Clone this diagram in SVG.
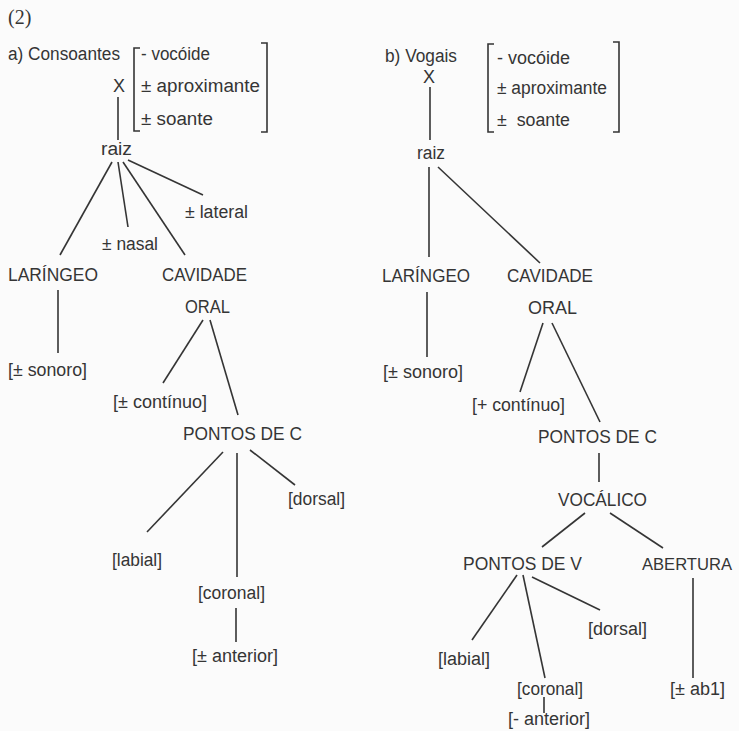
<svg xmlns="http://www.w3.org/2000/svg" width="739" height="731" viewBox="0 0 739 731">
<style>
text{font-family:"Liberation Sans",Arial,sans-serif;font-size:18px;fill:#353535}
.num{font-family:"Liberation Serif","Times New Roman",serif;font-size:20px}
.e line,.br path{stroke:#353535;stroke-width:1.6;fill:none}
</style>
<rect width="739" height="731" fill="#fbfbfb"/>
<text class="num" x="8" y="24">(2)</text>
<g id="left">
<g id="a-title"><text x="8" y="60" textLength="112" lengthAdjust="spacingAndGlyphs">a) Consoantes</text></g>
<g id="a-X"><text x="113" y="92" textLength="12" lengthAdjust="spacingAndGlyphs">X</text></g>
<g id="a-matrix" class="br">
<path d="M140,48 H134 V131 H140"/>
<path d="M261,43 H267 V132 H261"/>
<text x="141" y="60" textLength="69" lengthAdjust="spacingAndGlyphs">- vocóide</text>
<text x="141" y="92" textLength="119" lengthAdjust="spacingAndGlyphs">± aproximante</text>
<text x="141" y="125" textLength="72" lengthAdjust="spacingAndGlyphs">± soante</text>
</g>
<g id="a-raiz"><text x="101" y="155" textLength="31" lengthAdjust="spacingAndGlyphs">raiz</text></g>
<g id="a-lateral"><text x="185" y="218" textLength="63" lengthAdjust="spacingAndGlyphs">± lateral</text></g>
<g id="a-nasal"><text x="102" y="250" textLength="56" lengthAdjust="spacingAndGlyphs">± nasal</text></g>
<g id="a-laringeo"><text x="8" y="281" textLength="90" lengthAdjust="spacingAndGlyphs">LARÍNGEO</text></g>
<g id="a-cavidade"><text x="162" y="281" textLength="85" lengthAdjust="spacingAndGlyphs">CAVIDADE</text><text x="185" y="313" textLength="45" lengthAdjust="spacingAndGlyphs">ORAL</text></g>
<g id="a-sonoro"><text x="8" y="376" textLength="79" lengthAdjust="spacingAndGlyphs">[± sonoro]</text></g>
<g id="a-continuo"><text x="113" y="408" textLength="94" lengthAdjust="spacingAndGlyphs">[± contínuo]</text></g>
<g id="a-pontosC"><text x="183" y="440" textLength="119" lengthAdjust="spacingAndGlyphs">PONTOS DE C</text></g>
<g id="a-dorsal"><text x="288" y="505" textLength="57" lengthAdjust="spacingAndGlyphs">[dorsal]</text></g>
<g id="a-labial"><text x="112" y="566" textLength="50" lengthAdjust="spacingAndGlyphs">[labial]</text></g>
<g id="a-coronal"><text x="198" y="599" textLength="67" lengthAdjust="spacingAndGlyphs">[coronal]</text></g>
<g id="a-anterior"><text x="192" y="662" textLength="86" lengthAdjust="spacingAndGlyphs">[± anterior]</text></g>
</g>
<g id="right">
<g id="b-title"><text x="385" y="62" textLength="72" lengthAdjust="spacingAndGlyphs">b) Vogais</text></g>
<g id="b-X"><text x="423" y="83" textLength="12" lengthAdjust="spacingAndGlyphs">X</text></g>
<g id="b-matrix" class="br">
<path d="M494,44 H488 V132 H494"/>
<path d="M613,42 H619 V132 H613"/>
<text x="497" y="64" textLength="73" lengthAdjust="spacingAndGlyphs">- vocóide</text>
<text x="497" y="94" textLength="110" lengthAdjust="spacingAndGlyphs">± aproximante</text>
<text x="497" y="126" textLength="73" lengthAdjust="spacingAndGlyphs" xml:space="preserve">±  soante</text>
</g>
<g id="b-raiz"><text x="417" y="159" textLength="28" lengthAdjust="spacingAndGlyphs">raiz</text></g>
<g id="b-laringeo"><text x="382" y="282" textLength="88" lengthAdjust="spacingAndGlyphs">LARÍNGEO</text></g>
<g id="b-cavidade"><text x="507" y="282" textLength="86" lengthAdjust="spacingAndGlyphs">CAVIDADE</text><text x="528" y="314" textLength="49" lengthAdjust="spacingAndGlyphs">ORAL</text></g>
<g id="b-sonoro"><text x="383" y="378" textLength="80" lengthAdjust="spacingAndGlyphs">[± sonoro]</text></g>
<g id="b-continuo"><text x="472" y="411" textLength="93" lengthAdjust="spacingAndGlyphs">[+ contínuo]</text></g>
<g id="b-pontosC"><text x="538" y="443" textLength="119" lengthAdjust="spacingAndGlyphs">PONTOS DE C</text></g>
<g id="b-vocalico"><text x="558" y="506" textLength="89" lengthAdjust="spacingAndGlyphs">VOCÁLICO</text></g>
<g id="b-pontosV"><text x="463" y="570" textLength="119" lengthAdjust="spacingAndGlyphs">PONTOS DE V</text></g>
<g id="b-abertura"><text x="642" y="570" style="font-size:17px" textLength="90" lengthAdjust="spacingAndGlyphs">ABERTURA</text></g>
<g id="b-dorsal"><text x="588" y="635" textLength="59" lengthAdjust="spacingAndGlyphs">[dorsal]</text></g>
<g id="b-labial"><text x="438" y="665" textLength="52" lengthAdjust="spacingAndGlyphs">[labial]</text></g>
<g id="b-coronal"><text x="517" y="695" textLength="66" lengthAdjust="spacingAndGlyphs">[coronal]</text></g>
<g id="b-ab1"><text x="670" y="695" textLength="55" lengthAdjust="spacingAndGlyphs">[± ab1]</text></g>
<g id="b-anterior"><text x="508" y="725" textLength="82" lengthAdjust="spacingAndGlyphs">[- anterior]</text></g>
</g>
<g id="connectors" class="e">
<line x1="118" y1="97" x2="118" y2="140"/>
<line x1="112" y1="162" x2="60" y2="255"/>
<line x1="118" y1="162" x2="128" y2="227"/>
<line x1="123" y1="162" x2="185" y2="255"/>
<line x1="128" y1="160" x2="203" y2="195"/>
<line x1="58" y1="290" x2="58" y2="353"/>
<line x1="203" y1="320" x2="163" y2="383"/>
<line x1="210" y1="320" x2="238" y2="415"/>
<line x1="223" y1="452" x2="147" y2="532"/>
<line x1="237" y1="453" x2="237" y2="577"/>
<line x1="250" y1="450" x2="295" y2="485"/>
<line x1="236" y1="608" x2="236" y2="642"/>
<line x1="430" y1="87" x2="430" y2="140"/>
<line x1="429" y1="167" x2="429" y2="257"/>
<line x1="438" y1="167" x2="540" y2="263"/>
<line x1="427" y1="292" x2="427" y2="357"/>
<line x1="543" y1="323" x2="520" y2="392"/>
<line x1="552" y1="323" x2="600" y2="422"/>
<line x1="599" y1="453" x2="599" y2="482"/>
<line x1="585" y1="513" x2="542" y2="547"/>
<line x1="610" y1="513" x2="663" y2="548"/>
<line x1="517" y1="575" x2="472" y2="640"/>
<line x1="523" y1="575" x2="545" y2="678"/>
<line x1="532" y1="577" x2="600" y2="610"/>
<line x1="693" y1="578" x2="693" y2="678"/>
<line x1="544" y1="697" x2="544" y2="713"/>
</g>
</svg>
